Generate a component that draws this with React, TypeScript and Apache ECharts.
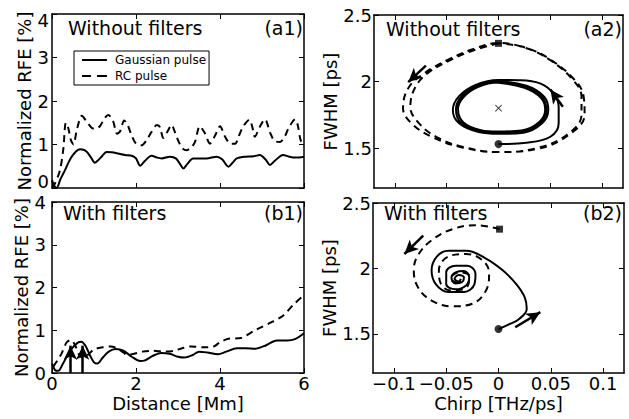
import React, { useEffect, useRef } from 'react';
import * as echarts from 'echarts';

const FONT = 'DejaVu Sans';

// Tick values
const distanceTicks = [0, 2, 4, 6];
const rfeTicks = [0, 1, 2, 3, 4];
const chirpTicks = [-0.1, -0.05, 0, 0.05, 0.1];
const fwhmTicks = [1.5, 2, 2.5];

// (a1) Without filters: [distance Mm, normalized RFE %]
const a1Gaussian = [
  [0, 0.18], [0.05, 0.06], [0.11, 0.0], [0.2, 0.2], [0.31, 0.41], [0.4, 0.6], [0.47, 0.72],
  [0.57, 0.84], [0.67, 0.89], [0.75, 0.88], [0.83, 0.83], [0.93, 0.7], [1.02, 0.58], [1.1, 0.64],
  [1.18, 0.72], [1.3, 0.83], [1.42, 0.82], [1.54, 0.8], [1.74, 0.76], [1.9, 0.74], [2.0, 0.68],
  [2.1, 0.51], [2.21, 0.62], [2.37, 0.74], [2.5, 0.7], [2.61, 0.68], [2.81, 0.72], [2.95, 0.68],
  [3.05, 0.55], [3.13, 0.45], [3.22, 0.55], [3.36, 0.68], [3.52, 0.68], [3.68, 0.68], [3.92, 0.72],
  [4.05, 0.66], [4.2, 0.49], [4.3, 0.58], [4.4, 0.68], [4.6, 0.72], [4.8, 0.73], [4.95, 0.76],
  [5.08, 0.66], [5.19, 0.53], [5.3, 0.62], [5.5, 0.76], [5.65, 0.72], [5.8, 0.7], [6.0, 0.72],
];
const a1RC = [
  [0, 0.0], [0.07, 0.1], [0.19, 0.41], [0.27, 0.9], [0.33, 1.5], [0.39, 1.37], [0.45, 1.1],
  [0.51, 1.0], [0.59, 1.33], [0.71, 1.66], [0.83, 1.52], [0.95, 1.38], [1.02, 1.36], [1.14, 1.42],
  [1.25, 1.6], [1.34, 1.68], [1.45, 1.55], [1.55, 1.25], [1.62, 1.3], [1.72, 1.55], [1.8, 1.45],
  [1.9, 1.2], [2.0, 1.02], [2.13, 0.98], [2.25, 1.1], [2.37, 1.29], [2.5, 1.45], [2.57, 1.4],
  [2.65, 1.15], [2.75, 1.3], [2.85, 1.45], [2.92, 1.3], [3.0, 1.1], [3.1, 0.92], [3.2, 0.87],
  [3.3, 0.92], [3.4, 1.05], [3.52, 1.42], [3.64, 1.26], [3.76, 1.02], [3.88, 1.2], [4.0, 1.42],
  [4.12, 1.18], [4.25, 1.02], [4.36, 1.02], [4.45, 1.2], [4.55, 1.41], [4.7, 1.57], [4.77, 1.4],
  [4.83, 1.18], [4.95, 1.41], [5.07, 1.58], [5.19, 1.28], [5.3, 1.08], [5.43, 1.06], [5.55, 1.2],
  [5.63, 1.37], [5.79, 1.58], [5.85, 1.45], [5.92, 1.1], [6.0, 1.0],
];

// (b1) With filters
const b1Gaussian = [
  [0, 0.22], [0.07, 0.07], [0.15, 0.05], [0.25, 0.2], [0.35, 0.38], [0.48, 0.58], [0.6, 0.7],
  [0.7, 0.73], [0.8, 0.63], [0.9, 0.42], [1.0, 0.25], [1.08, 0.22], [1.2, 0.35], [1.35, 0.5],
  [1.52, 0.56], [1.7, 0.52], [1.9, 0.38], [2.1, 0.28], [2.2, 0.29], [2.4, 0.4], [2.6, 0.47],
  [2.8, 0.45], [3.0, 0.38], [3.15, 0.36], [3.35, 0.42], [3.5, 0.5], [3.7, 0.48], [3.95, 0.44],
  [4.15, 0.5], [4.4, 0.58], [4.6, 0.58], [4.85, 0.57], [5.1, 0.65], [5.35, 0.76], [5.6, 0.76],
  [5.8, 0.8], [6.0, 0.93],
];
const b1RC = [
  [0.03, 0.15], [0.12, 0.28], [0.23, 0.46], [0.35, 0.72], [0.45, 0.77], [0.55, 0.65], [0.65, 0.42],
  [0.75, 0.35], [0.85, 0.42], [1.0, 0.55], [1.2, 0.6], [1.4, 0.62], [1.55, 0.58], [1.7, 0.48],
  [1.8, 0.42], [1.95, 0.45], [2.15, 0.5], [2.4, 0.52], [2.7, 0.5], [2.9, 0.52], [3.1, 0.58],
  [3.3, 0.62], [3.6, 0.6], [3.85, 0.62], [4.0, 0.72], [4.2, 0.8], [4.5, 0.82], [4.8, 0.98],
  [5.0, 1.08], [5.25, 1.2], [5.5, 1.34], [5.75, 1.6], [6.0, 1.82],
];
// arrows marking positions in (b1): [distance, from RFE, to RFE]
const b1Arrows = [
  [0.44, 0, 0.64],
  [0.73, 0, 0.64],
];

// (a2) Without filters: [chirp THz/ps, FWHM ps]
const a2Gaussian = [
  [0, 1.53], [0.027, 1.54], [0.05, 1.585], [0.058, 1.686], [0.058, 1.81], [0.053, 1.91], [0.04, 1.986], [0.02, 2.01],
  [0, 2.012], [-0.022, 1.975], [-0.038, 1.89], [-0.044, 1.786], [-0.038, 1.686], [-0.019, 1.62], [0, 1.607],
  [0.024, 1.616], [0.042, 1.686], [0.048, 1.786], [0.044, 1.886], [0.027, 1.968],
  [0, 2.0], [-0.021, 1.965], [-0.036, 1.885], [-0.041, 1.79], [-0.036, 1.69], [-0.018, 1.63], [0, 1.618],
  [0.023, 1.626], [0.04, 1.69], [0.046, 1.786], [0.042, 1.88], [0.026, 1.958],
  [0, 1.992], [-0.02, 1.958], [-0.034, 1.88], [-0.039, 1.792], [-0.034, 1.695], [-0.017, 1.635], [0, 1.624],
  [0.022, 1.632], [0.039, 1.694], [0.045, 1.788], [0.041, 1.876], [0.025, 1.952], [0, 1.99],
];
const a2RC = [
  [0, 2.287], [-0.022, 2.24], [-0.044, 2.17], [-0.067, 2.07], [-0.08, 1.96], [-0.085, 1.81], [-0.077, 1.69],
  [-0.06, 1.585], [-0.035, 1.51], [0, 1.47], [0.037, 1.5], [0.066, 1.6], [0.08, 1.75], [0.08, 1.886],
  [0.072, 2.01], [0.05, 2.16], [0.027, 2.25],
  [0, 2.29], [-0.024, 2.245], [-0.047, 2.17], [-0.072, 2.06], [-0.087, 1.95], [-0.092, 1.8], [-0.083, 1.68],
  [-0.063, 1.58], [-0.035, 1.505], [0, 1.47], [0.038, 1.495], [0.068, 1.6], [0.083, 1.75], [0.082, 1.89],
  [0.073, 2.015], [0.05, 2.165], [0.026, 2.255], [0, 2.288],
];
const a2Start = [[0, 1.53]];
const a2RCStart = [[0, 2.287]];
const a2Center = [[0, 1.8]];
// arrows: [fromChirp, fromFwhm, toChirp, toFwhm]
const a2Arrows = [
  [-0.07, 2.12, -0.087, 1.995],
  [0.062, 1.81, 0.05, 1.94],
];

// (b2) With filters
const b2Gaussian = [
  [0, 1.536], [0.011, 1.575], [0.02, 1.615], [0.027, 1.69], [0.025, 1.78], [0.017, 1.88], [0.004, 1.985],
  [-0.012, 2.075], [-0.031, 2.135], [-0.048, 2.135], [-0.059, 2.09], [-0.064, 1.985], [-0.06, 1.88],
  [-0.048, 1.82], [-0.033, 1.82], [-0.023, 1.88], [-0.022, 1.96], [-0.03, 2.02], [-0.041, 2.02],
  [-0.05, 1.97], [-0.05, 1.88], [-0.041, 1.84], [-0.031, 1.87], [-0.028, 1.93], [-0.033, 1.98],
  [-0.041, 1.97], [-0.045, 1.93], [-0.041, 1.885], [-0.035, 1.895], [-0.033, 1.93], [-0.038, 1.95],
  [-0.042, 1.92], [-0.038, 1.9], [-0.036, 1.92],
];
const b2RC = [
  [0.001, 2.3], [-0.022, 2.33], [-0.044, 2.3], [-0.064, 2.215], [-0.077, 2.1], [-0.081, 1.985],
  [-0.077, 1.856], [-0.064, 1.754], [-0.044, 1.71], [-0.025, 1.73], [-0.012, 1.83], [-0.009, 1.96],
  [-0.015, 2.06], [-0.031, 2.11], [-0.048, 2.09], [-0.057, 1.985], [-0.055, 1.88], [-0.045, 1.83],
  [-0.03, 1.86], [-0.028, 1.94], [-0.038, 1.97], [-0.046, 1.92], [-0.038, 1.89], [-0.036, 1.92],
];
const b2Start = [[0, 1.536]];
const b2RCStart = [[0.001, 2.3]];
const b2Arrows = [
  [-0.072, 2.25, -0.09, 2.11],
  [0.016, 1.55, 0.04, 1.665],
];

const TXT = { fontFamily: FONT, color: '#000' };
const AXLINE = { show: true, onZero: false, lineStyle: { color: '#000', width: 1.5 } };
const TICK = { show: true, inside: true, length: 5, lineStyle: { color: '#000', width: 1 } };

function minusFmt(v: number) {
  return v < 0 ? '\u2212' + String(-v) : String(v);
}

const LABEL = { ...TXT, fontSize: 18, lineHeight: 13 };
const NAME = { ...TXT, fontSize: 18, lineHeight: 16 };

function leftX(grid: number, pos: string, labels: boolean, name?: string) {
  return {
    type: 'value', gridIndex: grid, position: pos, min: 0, max: 6, interval: 2,
    axisLine: AXLINE, axisTick: TICK, splitLine: { show: false },
    axisLabel: { show: labels, ...LABEL, margin: 4 },
    name: name || '', nameLocation: 'middle', nameGap: 22,
    nameTextStyle: NAME,
  };
}
function leftY(grid: number, pos: string, labels: boolean, name?: string, topPanel = false) {
  return {
    type: 'value', gridIndex: grid, position: pos, min: 0, max: 4, interval: 1,
    axisLine: AXLINE, axisTick: TICK, splitLine: { show: false },
    axisLabel: {
      show: labels, ...LABEL, margin: topPanel ? 3 : 6,
      ...(topPanel ? { verticalAlignMinLabel: 'bottom', verticalAlignMaxLabel: 'top' } : {}),
    },
    name: name || '', nameLocation: 'middle', nameGap: 18,
    nameTextStyle: NAME,
  };
}
function rightX(grid: number, pos: string, labels: boolean, name?: string) {
  return {
    type: 'value', gridIndex: grid, position: pos, min: -0.12, max: 0.12,
    axisLine: AXLINE,
    axisTick: { ...TICK, customValues: chirpTicks }, splitLine: { show: false },
    axisLabel: { show: labels, ...LABEL, margin: 4, customValues: chirpTicks, formatter: minusFmt },
    name: name || '', nameLocation: 'middle', nameGap: 22,
    nameTextStyle: NAME,
  };
}
function rightY(grid: number, pos: string, labels: boolean, name?: string) {
  return {
    type: 'value', gridIndex: grid, position: pos, min: 1.2, max: 2.5,
    axisLine: AXLINE,
    axisTick: { ...TICK, customValues: fwhmTicks }, splitLine: { show: false },
    axisLabel: { show: labels, ...LABEL, margin: 2, customValues: fwhmTicks },
    name: name || '', nameLocation: 'middle', nameGap: 30,
    nameTextStyle: NAME,
  };
}

function arrowMark(arrows: number[][]) {
  return {
    silent: true,
    symbol: ['none', 'arrow'],
    symbolSize: [10, 14],
    label: { show: false },
    lineStyle: { color: '#000', width: 2.5, type: 'solid' },
    emphasis: { disabled: true },
    data: arrows.map((a) => [{ coord: [a[0], a[1]] }, { coord: [a[2], a[3]] }]),
  };
}

function lineSeries(name: string, data: number[][], xi: number, dashed: boolean, width = 2, smooth: boolean | number = 0.3) {
  return {
    type: 'line', name, data, xAxisIndex: xi, yAxisIndex: xi,
    showSymbol: false, symbol: 'none', smooth,
    lineStyle: { color: '#000', width, type: dashed ? [7, 5] : 'solid' },
    itemStyle: { color: '#000' },
    silent: true, z: 3,
  };
}

function markerSeries(data: number[][], xi: number, symbol: string, size: number) {
  return {
    type: 'scatter', data, xAxisIndex: xi, yAxisIndex: xi, symbol, symbolSize: size,
    itemStyle: { color: '#000' }, silent: true, z: 5,
  };
}

const CROSS = 'path://M0,1L1,0L5,4L9,0L10,1L6,5L10,9L9,10L5,6L1,10L0,9L4,5Z';
const SOLID_ICON = 'path://M0,0H25V2H0Z';
const DASH_ICON = 'path://M0,0H9V2H0Z M15,0H25V2H15Z';

export default function App() {
  const ref = useRef<HTMLDivElement>(null);
  useEffect(() => {
    if (!ref.current) return;
    const chart = echarts.init(ref.current, null, { renderer: 'svg' });
    const titleStyle = { ...TXT, fontSize: 19, fontWeight: 'normal' };
    const t = (text: string, pos: any) => ({ text, padding: 0, textStyle: titleStyle, ...pos });
    chart.setOption({
      animation: false,
      backgroundColor: '#fff',
      title: [
        t('Without filters', { left: 68, top: 18 }),
        t('(a1)', { right: 326, top: 18 }),
        t('With filters', { left: 63, top: 203 }),
        t('(b1)', { right: 326, top: 203 }),
        t('Without filters', { left: 386, top: 19 }),
        t('(a2)', { right: 7, top: 19 }),
        t('With filters', { left: 384, top: 203 }),
        t('(b2)', { right: 7, top: 203 }),
      ],
      legend: {
        data: [
          { name: 'Gaussian pulse', icon: SOLID_ICON },
          { name: 'RC pulse', icon: DASH_ICON },
        ],
        orient: 'vertical', left: 74, top: 51,
        padding: [1, 3, 1, 8], itemGap: 0, itemWidth: 25, itemHeight: 2,
        borderColor: '#000', borderWidth: 1, borderRadius: 0,
        backgroundColor: '#fff',
        selectedMode: false,
        itemStyle: { color: '#000' },
        textStyle: { ...TXT, fontSize: 12, lineHeight: 16, padding: [0, 0, 0, 3] },
      },
      grid: [
        { left: 52, top: 14, width: 252, height: 174 },
        { left: 52, top: 202, width: 252, height: 171 },
        { left: 374, top: 15, width: 249, height: 173 },
        { left: 373, top: 203, width: 251, height: 170 },
      ],
      xAxis: [
        leftX(0, 'bottom', false), leftX(1, 'bottom', true, 'Distance [Mm]'),
        rightX(2, 'bottom', false), rightX(3, 'bottom', true, 'Chirp [THz/ps]'),
        leftX(0, 'top', false), leftX(1, 'top', false),
        rightX(2, 'top', false), rightX(3, 'top', false),
      ],
      yAxis: [
        leftY(0, 'left', true, 'Normalized RFE [%]', true), leftY(1, 'left', true, 'Normalized RFE [%]'),
        rightY(2, 'left', true, 'FWHM [ps]'), rightY(3, 'left', true, 'FWHM [ps]'),
        leftY(0, 'right', false), leftY(1, 'right', false),
        rightY(2, 'right', false), rightY(3, 'right', false),
      ],
      series: [
        lineSeries('Gaussian pulse', a1Gaussian, 0, false, 2),
        lineSeries('RC pulse', a1RC, 0, true, 2),
        {
          ...lineSeries('Gaussian pulse (b1)', b1Gaussian, 1, false, 2),
          markLine: arrowMark(b1Arrows.map((a) => [a[0], a[1], a[0], a[2]])),
        },
        lineSeries('RC pulse (b1)', b1RC, 1, true, 2),
        {
          ...lineSeries('Gaussian pulse (a2)', a2Gaussian, 2, false, 2, 0.4),
          markLine: arrowMark(a2Arrows),
        },
        lineSeries('RC pulse (a2)', a2RC, 2, true, 2, 0.4),
        markerSeries(a2Start, 2, 'circle', 8),
        markerSeries(a2RCStart, 2, 'rect', 7),
        markerSeries(a2Center, 2, CROSS, 7),
        {
          ...lineSeries('Gaussian pulse (b2)', b2Gaussian, 3, false, 2, 0.4),
          markLine: arrowMark(b2Arrows),
        },
        lineSeries('RC pulse (b2)', b2RC, 3, true, 2, 0.4),
        markerSeries(b2Start, 3, 'circle', 8),
        markerSeries(b2RCStart, 3, 'rect', 7),
      ],
    });
    return () => chart.dispose();
  }, []);
  return (
    <div
      ref={ref}
      style={{ position: 'absolute', left: 0, top: 0, width: 629, height: 419, background: '#fff' }}
    />
  );
}
